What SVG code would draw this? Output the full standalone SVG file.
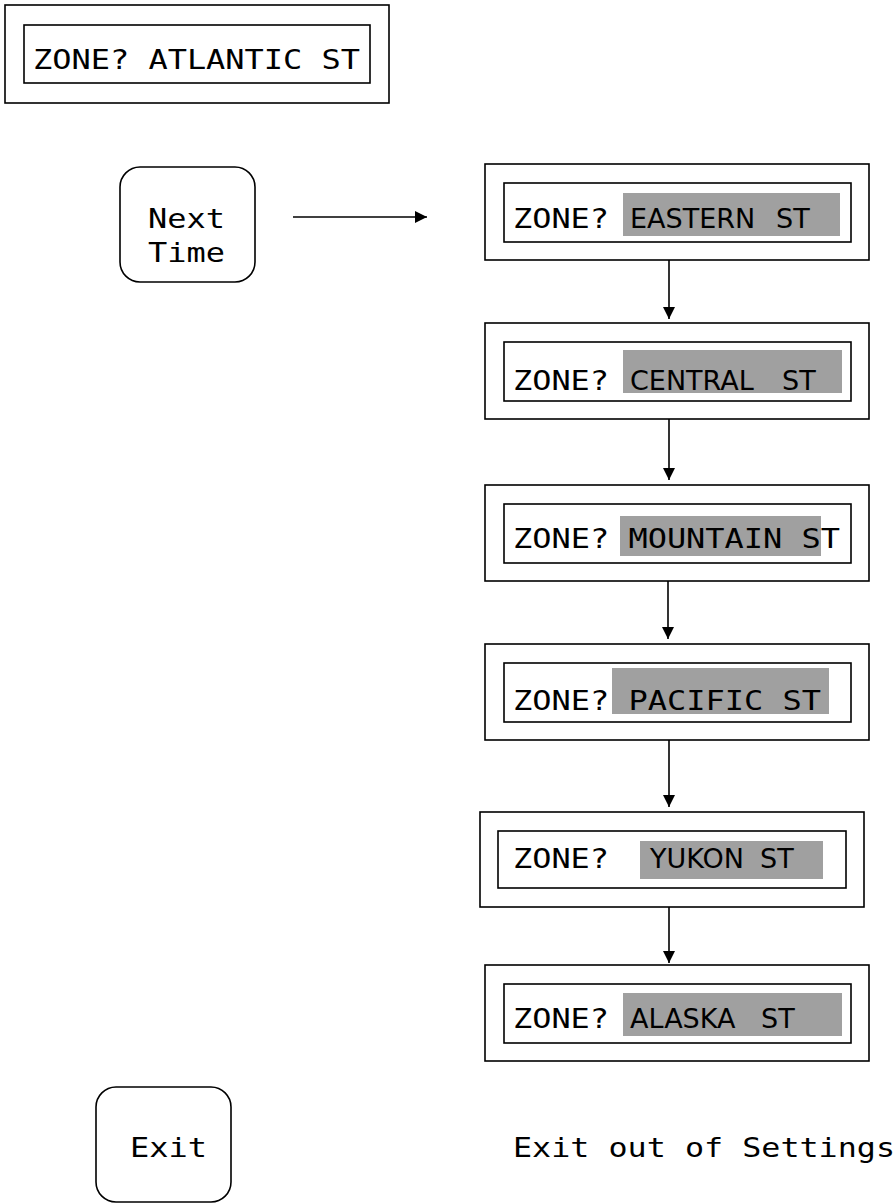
<svg xmlns="http://www.w3.org/2000/svg" width="896" height="1203" viewBox="0 0 896 1203">
<defs>
<style>
.box{fill:#fff;stroke:#000;stroke-width:1.6}
.hl{fill:#a0a0a0;stroke:none}
.mono{font-family:"DejaVu Sans Mono","Liberation Mono",monospace;font-size:27px;fill:#000}
.sans{font-family:"DejaVu Sans","Liberation Sans",sans-serif;font-size:27px;fill:#000}
.conn{stroke:#000;stroke-width:1.6;fill:none}
</style>
<marker id="ah" viewBox="0 0 12 12" refX="12" refY="6" markerWidth="12" markerHeight="12" markerUnits="userSpaceOnUse" orient="auto">
<path d="M0,0 L12,6 L0,12 Z" fill="#000"/>
</marker>
</defs>
<rect width="896" height="1203" fill="#fff"/>

<g id="atlantic">
<rect class="box" x="5" y="5" width="384" height="98"/>
<rect class="box" x="24" y="25" width="346" height="58"/>
<text class="mono" x="33" y="69" textLength="327" lengthAdjust="spacingAndGlyphs">ZONE? ATLANTIC ST</text>
</g>

<g id="next-time">
<rect class="box" x="120" y="167" width="135" height="115" rx="20"/>
<text class="mono" x="148" y="228" textLength="77" lengthAdjust="spacingAndGlyphs">Next</text>
<text class="mono" x="148" y="262" textLength="77" lengthAdjust="spacingAndGlyphs">Time</text>
</g>

<g id="eastern">
<rect class="box" x="485" y="164" width="384" height="96"/>
<rect class="box" x="504" y="183" width="347" height="59"/>
<rect class="hl" x="623" y="193" width="217" height="43"/>
<text class="mono" x="513" y="228" textLength="96" lengthAdjust="spacingAndGlyphs">ZONE?</text>
<text class="sans" x="630" y="228">EASTERN<tspan x="776">ST</tspan></text>
</g>

<g id="central">
<rect class="box" x="485" y="323" width="384" height="96"/>
<rect class="box" x="504" y="342" width="347" height="59"/>
<rect class="hl" x="623" y="350" width="219" height="43"/>
<text class="mono" x="513" y="390" textLength="96" lengthAdjust="spacingAndGlyphs">ZONE?</text>
<text class="sans" x="630" y="390">CENTRAL<tspan x="782">ST</tspan></text>
</g>

<g id="mountain">
<rect class="box" x="485" y="485" width="384" height="96"/>
<rect class="box" x="504" y="504" width="347" height="59"/>
<rect class="hl" x="620" y="516" width="201" height="40"/>
<text class="mono" x="513" y="548" textLength="327" lengthAdjust="spacingAndGlyphs">ZONE? MOUNTAIN ST</text>
</g>

<g id="pacific">
<rect class="box" x="485" y="644" width="384" height="96"/>
<rect class="box" x="504" y="663" width="347" height="59"/>
<rect class="hl" x="612" y="668" width="217" height="46"/>
<text class="mono" x="513" y="710" textLength="308" lengthAdjust="spacingAndGlyphs">ZONE? PACIFIC ST</text>
</g>

<g id="yukon">
<rect class="box" x="480" y="812" width="384" height="95"/>
<rect class="box" x="498" y="831" width="348" height="57"/>
<rect class="hl" x="640" y="841" width="183" height="38"/>
<text class="mono" x="513" y="868" textLength="96" lengthAdjust="spacingAndGlyphs">ZONE?</text>
<text class="sans" x="650" y="868">YUKON<tspan x="760">ST</tspan></text>
</g>

<g id="alaska">
<rect class="box" x="485" y="965" width="384" height="96"/>
<rect class="box" x="504" y="984" width="347" height="59"/>
<rect class="hl" x="623" y="993" width="219" height="43"/>
<text class="mono" x="513" y="1028" textLength="96" lengthAdjust="spacingAndGlyphs">ZONE?</text>
<text class="sans" x="630" y="1028">ALASKA<tspan x="761">ST</tspan></text>
</g>

<g id="exit">
<rect class="box" x="96" y="1087" width="135" height="115" rx="20"/>
<text class="mono" x="130" y="1157" textLength="77" lengthAdjust="spacingAndGlyphs">Exit</text>
</g>

<g id="exit-label">
<text class="mono" x="513" y="1157" textLength="382" lengthAdjust="spacingAndGlyphs">Exit out of Settings</text>
</g>

<g id="connectors">
<line class="conn" x1="293" y1="217" x2="427" y2="217" marker-end="url(#ah)"/>
<line class="conn" x1="669" y1="260" x2="669" y2="319" marker-end="url(#ah)"/>
<line class="conn" x1="669" y1="419" x2="669" y2="480" marker-end="url(#ah)"/>
<line class="conn" x1="668" y1="581" x2="668" y2="639" marker-end="url(#ah)"/>
<line class="conn" x1="669" y1="740" x2="669" y2="807" marker-end="url(#ah)"/>
<line class="conn" x1="669" y1="907" x2="669" y2="963" marker-end="url(#ah)"/>
</g>
</svg>
